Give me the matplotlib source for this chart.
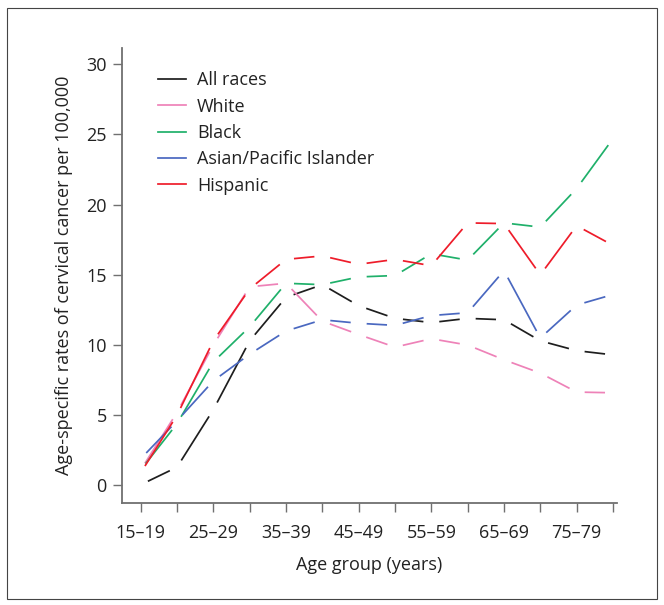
import numpy as np
import matplotlib
matplotlib.use("Agg")
import matplotlib.pyplot as plt
from matplotlib.lines import Line2D
from matplotlib.patches import Rectangle

plt.rcParams['font.family'] = ['Open Sans', 'DejaVu Sans']
plt.rcParams['lines.scale_dashes'] = False

# age groups (5-year bands)
age_groups = ["15–19", "20–24", "25–29", "30–34", "35–39", "40–44", "45–49",
              "50–54", "55–59", "60–64", "65–69", "70–74", "75–79", "80–84"]

# rates per 100,000
all_races = [0.05, 1.3, 5.4, 10.3, 13.4, 14.3, 12.8, 11.9, 11.6, 11.9, 11.8, 10.3, 9.6, 9.3]
white = [1.1, 5.2, 10.0, 14.15, 14.4, 11.7, 10.75, 9.85, 10.45, 10.0, 8.95, 8.0, 6.65, 6.6]
black = [1.1, 4.4, 8.8, 11.3, 14.4, 14.3, 14.85, 14.95, 16.5, 16.05, 18.7, 18.4, 21.15, 24.7]
asian_pi = [1.9, 4.6, 7.45, 9.35, 11.0, 11.8, 11.55, 11.4, 12.1, 12.3, 15.3, 10.5, 12.85, 13.6]
hispanic = [0.9, 5.0, 10.3, 14.0, 16.1, 16.35, 15.75, 16.1, 15.65, 18.7, 18.65, 15.0, 18.5, 17.1]

series = [("All races", all_races, "#1e1e1e"),
          ("White", white, "#ee82b8"),
          ("Black", black, "#1fb06a"),
          ("Asian/Pacific Islander", asian_pi, "#4a68c0"),
          ("Hispanic", hispanic, "#ee1c2a")]

fs = 13
dpi = 100
fig = plt.figure(figsize=(6.64, 6.05), dpi=dpi)
ax = fig.add_axes([0.1837, 0.1686, 0.7455, 0.7526])

x = np.arange(len(age_groups))
ax.set_xlim(-0.515, 13.11)
ax.set_ylim(-1.25, 31.18)

# each segment gets one dash with a gap at both ends
gap_px = 8.0
px2pt = 72.0 / dpi
for name, vals, col in series:
    for i in range(len(x) - 1):
        p0 = ax.transData.transform((x[i], vals[i]))
        p1 = ax.transData.transform((x[i + 1], vals[i + 1]))
        seg = np.hypot(*(p1 - p0))
        on = max(seg - 2 * gap_px, 1.0) * px2pt
        off = 2 * gap_px * px2pt
        ax.plot(x[i:i + 2], vals[i:i + 2], color=col, lw=1.25,
                linestyle=(on + gap_px * px2pt, (on, off)), solid_capstyle='butt')

handles = [Line2D([], [], color=col, lw=1.25) for _, _, col in series]
ax.legend(handles, [s[0] for s in series], loc='upper left',
          bbox_to_anchor=(0.073, 0.948), frameon=False, fontsize=fs,
          handlelength=1.55, handletextpad=0.61, labelspacing=0.46,
          borderpad=0, borderaxespad=0, labelcolor='#222222')

ax.set_xticks(x)
ax.set_xticklabels([g if i % 2 == 0 else "" for i, g in enumerate(age_groups)])
ax.set_yticks([0, 5, 10, 15, 20, 25, 30])
ax.tick_params(direction='out', length=6.5, width=1, color='#707070',
               labelsize=fs, labelcolor='#222222')
ax.tick_params(axis='x', pad=8.5)
ax.tick_params(axis='y', pad=4.5)
for side in ['top', 'right']:
    ax.spines[side].set_visible(False)
for side in ['left', 'bottom']:
    ax.spines[side].set_color('#707070')
    ax.spines[side].set_linewidth(1.3)

ax.set_xlabel("Age group (years)", fontsize=fs, color='#222222', labelpad=10)
ax.set_ylabel("Age-specific rates of cervical cancer per 100,000", fontsize=fs,
              color='#222222', labelpad=9.5)

fig.patches.append(Rectangle((0.011, 0.01), 0.978, 0.976, transform=fig.transFigure,
                             fill=False, edgecolor='#444444', lw=0.8))

fig.savefig("out.png", dpi=dpi)
